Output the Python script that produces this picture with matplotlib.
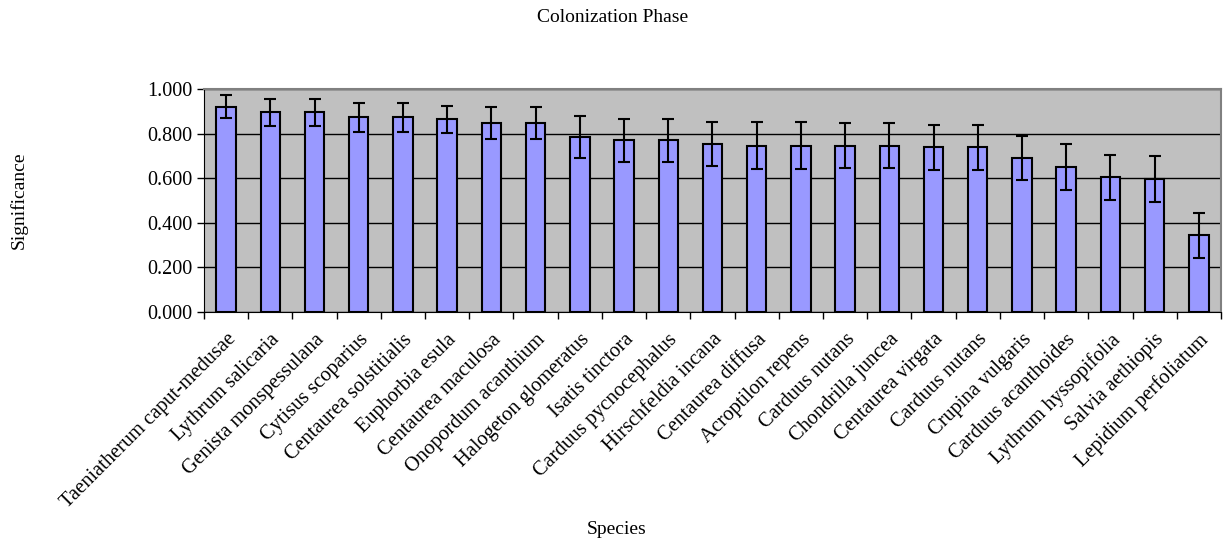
import numpy as np
import matplotlib.pyplot as plt
from matplotlib.ticker import FixedLocator, FormatStrFormatter

plt.rcParams["font.family"] = ["Liberation Serif", "DejaVu Serif"]

# species, mean significance and error
species = [
    "Taeniatherum caput-medusae", "Lythrum salicaria", "Genista monspessulana",
    "Cytisus scoparius", "Centaurea solstitialis", "Euphorbia esula",
    "Centaurea maculosa", "Onopordum acanthium", "Halogeton glomeratus",
    "Isatis tinctora", "Carduus pycnocephalus", "Hirschfeldia incana",
    "Centaurea diffusa", "Acroptilon repens", "Carduus nutans",
    "Chondrilla juncea", "Centaurea virgata", "Carduus nutans",
    "Crupina vulgaris", "Carduus acanthoides", "Lythrum hyssopifolia",
    "Salvia aethiopis", "Lepidium perfoliatum",
]
significance = [
    0.920, 0.896, 0.896, 0.872, 0.872, 0.864, 0.848, 0.848, 0.784,
    0.769, 0.769, 0.754, 0.746, 0.746, 0.746, 0.746, 0.738, 0.738,
    0.690, 0.650, 0.603, 0.595, 0.344,
]
errors = [
    0.052, 0.060, 0.060, 0.067, 0.067, 0.061, 0.072, 0.072, 0.095,
    0.095, 0.095, 0.100, 0.105, 0.105, 0.100, 0.100, 0.100, 0.100,
    0.100, 0.105, 0.103, 0.103, 0.102,
]

fig = plt.figure(figsize=(12.25, 5.44), dpi=100)
ax = fig.add_axes([0.1665, 0.4265, 0.8302, 0.41])
ax.set_facecolor("#C0C0C0")

x = np.arange(len(species))
ax.bar(x, significance, width=0.44, color="#9999FF", edgecolor="black",
       linewidth=1.5, zorder=3)
ax.errorbar(x, significance, yerr=errors, fmt="none", ecolor="black",
            elinewidth=1.5, capsize=4.2, capthick=1.5, zorder=4)

ax.set_xlim(-0.5, len(species) - 0.5)
ax.set_ylim(0, 1.0)
ax.set_yticks(np.arange(0, 1.01, 0.2))
ax.yaxis.set_major_formatter(FormatStrFormatter("%.3f"))
ax.yaxis.grid(True, color="black", linewidth=1.0, zorder=1)
ax.set_axisbelow(True)

ax.set_xticks(x)
ax.set_xticklabels(species, rotation=45, ha="right", rotation_mode="anchor")
ax.xaxis.set_minor_locator(FixedLocator(np.arange(len(species) + 1) - 0.5))
ax.tick_params(axis="x", which="major", length=0, pad=13, labelsize=14.7)
ax.tick_params(axis="x", which="minor", length=5, width=1, direction="out")
ax.tick_params(axis="y", length=5, width=1, labelsize=14.5)

for side in ["top", "right"]:
    ax.spines[side].set_color("#808080")
    ax.spines[side].set_linewidth(1.5)
ax.spines["left"].set_color("black")
ax.spines["bottom"].set_color("black")

fig.text(0.5, 0.968, "Colonization Phase", ha="center", va="center", fontsize=14)
fig.text(0.503, 0.026, "Species", ha="center", va="center", fontsize=14)
fig.text(0.015, 0.632, "Significance", ha="center", va="center",
         rotation=90, fontsize=14)

fig.savefig("out.png", dpi=100)
